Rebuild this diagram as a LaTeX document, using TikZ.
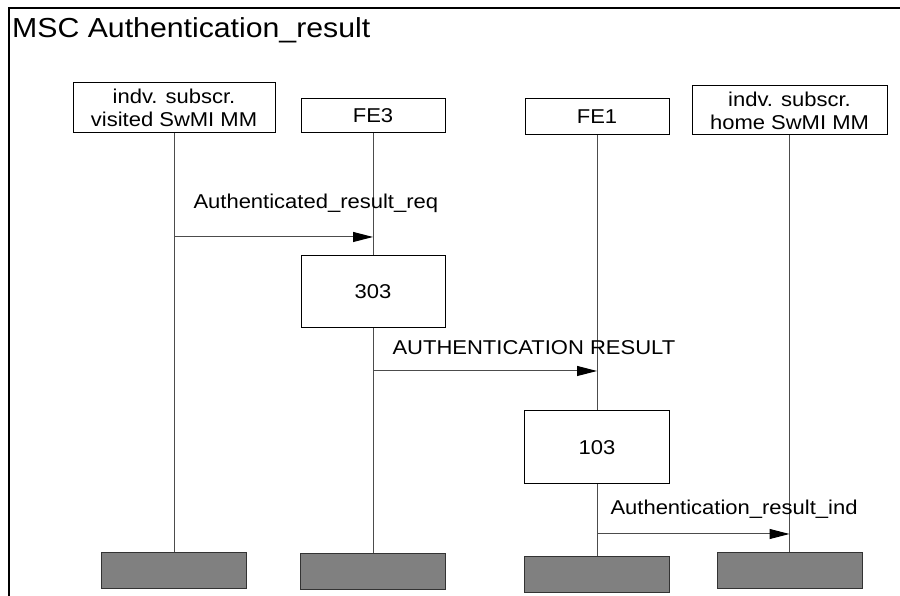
\documentclass[tikz,border=0pt]{standalone}
\usepackage{fontspec}
\setmainfont[FakeStretch=1.1]{Liberation Sans}
\usetikzlibrary{arrows.meta, positioning}

\begin{document}
\begin{tikzpicture}[
    x=1pt, y=1pt,
    head/.style={rectangle, draw, line width=1pt, inner sep=0pt, align=center, font=\fontsize{20}{23}\selectfont},
    action/.style={rectangle, draw, line width=1pt, inner sep=0pt, minimum width=144pt, minimum height=72pt, font=\fontsize{20}{24}\selectfont},
    stopbox/.style={rectangle, draw=black!80, fill=black!50, line width=1pt, inner sep=0pt, minimum width=145pt, minimum height=36pt},
    life/.style={draw=black!70, line width=1pt},
    msg/.style={-{Triangle[length=20pt, width=10pt, color=black]}, draw=black!70, line width=1pt},
    lbl/.style={font=\fontsize{20}{24}\selectfont, inner sep=0pt, anchor=base west, text=black}
]
    \useasboundingbox (0,0) rectangle (900,596);
    % frame and title
    \draw[line width=2pt] (9,0) -- (9,588) -- (900,588);
    \node[anchor=base west, inner sep=0pt, font=\fontsize{27.5}{33}\selectfont] (title) at (12,558.5) {MSC Authentication\_result};

    % instance heads
    \node[head, minimum width=202pt, minimum height=50pt] (visited) at (174,488) {indv. subscr.\\visited SwMI MM};
    \node[head, minimum width=144pt, minimum height=34pt] (fe3) at (373,480) {FE3};
    \node[head, minimum width=144pt, minimum height=36pt] (fe1) at (597,479) {FE1};
    \node[head, minimum width=195pt, minimum height=49pt] (home) at (789.5,485.5) {indv. subscr.\\home SwMI MM};

    % actions
    \node[action, below=122pt of fe3] (a303) {303};
    \node[action, minimum width=145pt, minimum height=73pt, below=275pt of fe1] (a103) {103};

    % instance ends
    \node[stopbox, below=419pt of visited] (endvisited) {};
    \node[stopbox, below=225pt of a303] (endfe3) {};
    \node[stopbox, below=72pt of a103] (endfe1) {};
    \node[stopbox, below=417pt of home] (endhome) {};

    % lifelines
    \draw[life] (visited) -- (endvisited);
    \draw[life] (fe3) -- (a303);
    \draw[life] (a303) -- (endfe3);
    \draw[life] (fe1) -- (a103);
    \draw[life] (a103) -- (endfe1);
    \draw[life] (home) -- (endhome);

    % messages
    \draw[msg] (visited.south |- 0,359) -- (fe3.south |- 0,359)
        node[lbl, pos=0, xshift=19pt, yshift=28.5pt] (lreq) {Authenticated\_result\_req};
    \draw[msg] (a303.south |- 0,225) -- (fe1.south |- 0,225)
        node[lbl, pos=0, xshift=19pt, yshift=16pt] (lres) {AUTHENTICATION RESULT};
    \draw[msg] (a103.south |- 0,62) -- (home.south |- 0,62)
        node[lbl, pos=0, xshift=13pt, yshift=19pt] (lind) {Authentication\_result\_ind};
\end{tikzpicture}
\end{document}
